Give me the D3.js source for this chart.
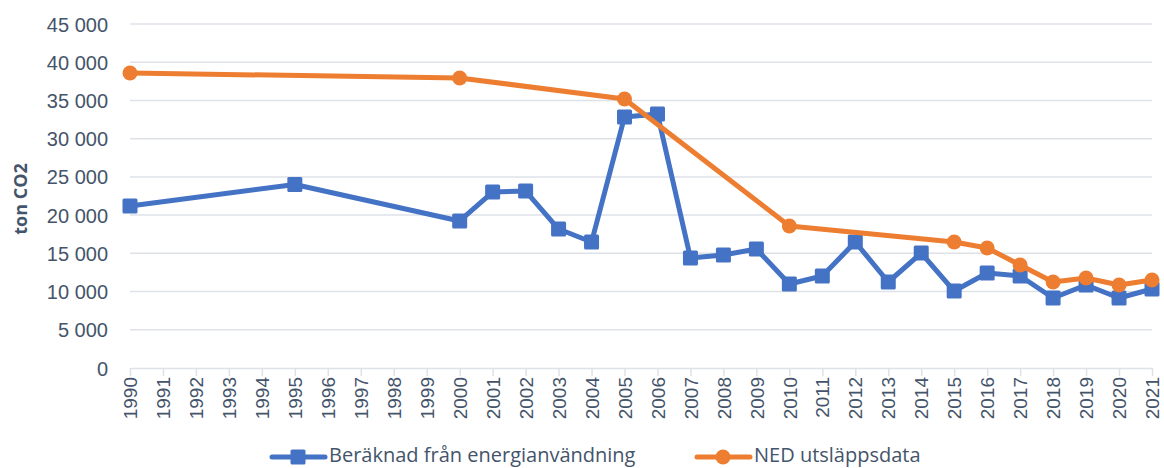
<!DOCTYPE html>
<html><head><meta charset="utf-8">
<script src="https://cdn.jsdelivr.net/npm/d3@7"></script>
<style>
body{margin:0;background:#fff;}
svg{display:block;font-family:"Open Sans",sans-serif;}
</style></head>
<body>
<svg id="c" width="1164" height="468"></svg>
<script>
const years = d3.range(1990, 2022);
const yTicks = [0,5000,10000,15000,20000,25000,30000,35000,40000,45000];
const blueYears = [1990,1995,2000,2001,2002,2003,2004,2005,2006,2007,2008,2009,2010,2011,2012,2013,2014,2015,2016,2017,2018,2019,2020,2021];
const blueValues = [21200,24000,19230,23020,23150,18180,16480,32840,33230,14390,14780,15570,10990,12040,16480,11250,15040,10070,12430,12040,9160,10860,9160,10330];
const orangeYears = [1990,2000,2005,2010,2015,2016,2017,2018,2019,2020,2021];
const orangeValues = [38590,37940,35190,18580,16480,15700,13470,11250,11770,10860,11510];
const seriesNames = ["Beräknad från energianvändning","NED utsläppsdata"];
const yTitle = "ton CO2";

const svg = d3.select("#c");
const x = d3.scaleLinear().domain([1990,2021]).range([130,1152]);
const y = d3.scaleLinear().domain([0,45000]).range([368,24]);
const textCol = "#44546A";
const fmt = v => v === 0 ? "0" : d3.format(",")(v).replace(/,/g," ");

// gridlines
svg.append("g").selectAll("line").data(yTicks.filter(d=>d>0)).join("line")
  .attr("x1",130).attr("x2",1152).attr("y1",d=>y(d)).attr("y2",d=>y(d))
  .attr("stroke","#DEE2E7").attr("stroke-width",1.5);

// y axis labels
const ya = svg.append("g").attr("transform","translate(108,0)")
  .call(d3.axisLeft(y).tickValues(yTicks).tickFormat(fmt).tickSize(0).tickPadding(0));
ya.select(".domain").remove();
ya.selectAll("text").attr("fill",textCol).style("font-size","20px").attr("dy","0.35em");

// x axis
const xa = svg.append("g").attr("transform","translate(0,368)")
  .call(d3.axisBottom(x).tickValues(years).tickFormat(d=>String(d)).tickSize(8).tickSizeOuter(0));
xa.select(".domain").attr("stroke","#DEE2E7").attr("stroke-width",1.5);
xa.selectAll(".tick line").attr("stroke","#DEE2E7").attr("stroke-width",1.5);
xa.selectAll("text").attr("fill",textCol).style("font-size","19px")
  .attr("transform","rotate(-90)").attr("text-anchor","end")
  .attr("x",-9).attr("y",0).attr("dy","0.35em");

// y title
svg.append("text").attr("transform","translate(27,199) rotate(-90)")
  .attr("text-anchor","middle").attr("fill",textCol)
  .style("font-size","18px").style("font-weight","bold").text(yTitle);

const line = d3.line().x(d=>x(d[0])).y(d=>y(d[1]));
const blue = blueYears.map((yr,i)=>[yr,blueValues[i]]);
const orange = orangeYears.map((yr,i)=>[yr,orangeValues[i]]);
const bCol = "#4472C4", oCol = "#ED7D31";

svg.append("path").datum(blue).attr("d",line).attr("fill","none")
  .attr("stroke",bCol).attr("stroke-width",5).attr("stroke-linejoin","round");
svg.append("g").selectAll("rect").data(blue).join("rect")
  .attr("x",d=>x(d[0])-7.5).attr("y",d=>y(d[1])-7.5).attr("width",15).attr("height",15)
  .attr("rx",1.5).attr("fill",bCol);

svg.append("path").datum(orange).attr("d",line).attr("fill","none")
  .attr("stroke",oCol).attr("stroke-width",5).attr("stroke-linejoin","round");
svg.append("g").selectAll("circle").data(orange).join("circle")
  .attr("cx",d=>x(d[0])).attr("cy",d=>y(d[1])).attr("r",7.5).attr("fill",oCol);

// legend
const lg = svg.append("g");
const items = [{x:272,c:bCol,shape:"rect",t:seriesNames[0]},{x:697,c:oCol,shape:"circle",t:seriesNames[1]}];
items.forEach(it=>{
  lg.append("line").attr("x1",it.x).attr("x2",it.x+53).attr("y1",457).attr("y2",457)
    .attr("stroke",it.c).attr("stroke-width",5).attr("stroke-linecap","round");
  if(it.shape==="rect") lg.append("rect").attr("x",it.x+26-7.5).attr("y",457-7.5).attr("width",15).attr("height",15).attr("rx",1.5).attr("fill",it.c);
  else lg.append("circle").attr("cx",it.x+26).attr("cy",457).attr("r",7.5).attr("fill",it.c);
  lg.append("text").attr("x",it.x+57).attr("y",462).attr("fill",textCol).style("font-size","20px").text(it.t);
});
</script>
</body></html>
